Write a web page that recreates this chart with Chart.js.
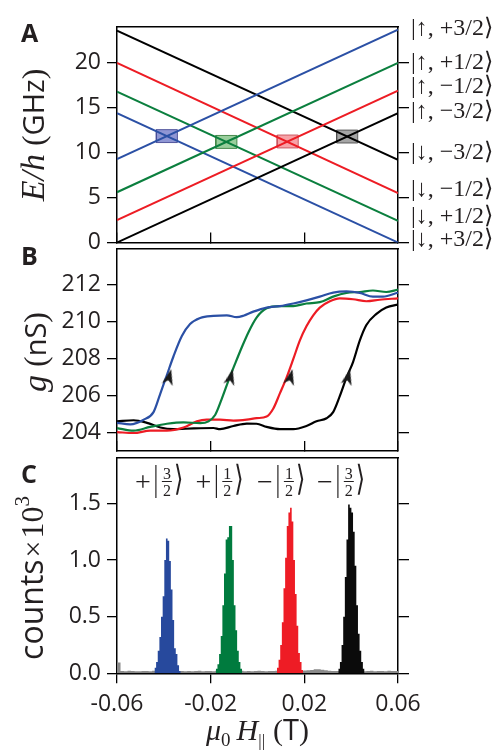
<!DOCTYPE html>
<html>
<head>
<meta charset="utf-8">
<script src="https://cdn.jsdelivr.net/npm/chart.js@4.4.1/dist/chart.umd.min.js"></script>
<style>
  html, body { margin: 0; padding: 0; background: #fff; }
  #figure { position: relative; width: 503px; height: 750px; overflow: hidden; }
  #figure canvas { position: absolute; left: 0; }
</style>
</head>
<body>
<div id="figure">
  <canvas id="panelA" width="503" height="260" style="top:0px"></canvas>
  <canvas id="panelB" width="503" height="220" style="top:240px"></canvas>
  <canvas id="panelC" width="503" height="300" style="top:450px"></canvas>
</div>
<script>
const FIELD_MIN = -0.06;
const FIELD_MAX = 0.06;

// panel A: level energies (GHz) at both ends of the field range
const A_FIELD = [-0.06, 0.06];
const A_BLUE_UP = [9.3, 23.7];
const A_GREEN_UP = [5.6, 20.0];
const A_RED_UP = [2.5, 16.9];
const A_BLACK_UP = [0.0, 14.4];
const A_BLACK_DOWN = [23.6, 9.2];
const A_RED_DOWN = [20.0, 5.5];
const A_GREEN_DOWN = [16.8, 2.4];
const A_BLUE_DOWN = [14.4, 0.0];
// anticrossings marked by boxes
const A_CROSS_FIELD = [-0.0387, -0.0133, 0.0129, 0.0383];
const A_CROSS_ENERGY = [11.85, 11.2, 11.25, 11.8];
const KET_LABELS = ["|↑, +3/2⟩", "|↑, +1/2⟩", "|↑, −1/2⟩", "|↑, −3/2⟩",
                    "|↓, −3/2⟩", "|↓, −1/2⟩", "|↓, +1/2⟩", "|↓, +3/2⟩"];
const KET_ENERGY = [23.8, 20.0, 17.3, 14.6, 10.0, 5.9, 2.86, 0.26];

// panel B: conductance sweeps (nS)
const B_BLUE_FIELD = [-0.06, -0.0543, -0.0486, -0.0444, -0.0415, -0.0387, -0.0359, -0.0323, -0.0288, -0.0245, -0.0188, -0.0131, -0.0089, -0.0060, -0.0018, 0.0039, 0.0096, 0.0153, 0.0209, 0.0266, 0.0323, 0.0380, 0.0437, 0.0493, 0.0536, 0.06];
const B_BLUE_G = [204.52, 204.44, 204.69, 205.1, 206.1, 207.1, 208.1, 209.2, 209.85, 210.18, 210.29, 210.32, 210.22, 210.30, 210.52, 210.74, 210.82, 210.96, 211.13, 211.33, 211.55, 211.61, 211.53, 211.33, 211.33, 211.55];
const B_GREEN_FIELD = [-0.06, -0.0529, -0.0458, -0.0387, -0.0316, -0.0245, -0.0209, -0.0181, -0.0153, -0.0124, -0.0096, -0.0067, -0.0039, -0.0004, 0.0039, 0.0096, 0.0153, 0.0209, 0.0266, 0.0323, 0.0380, 0.0437, 0.0493, 0.0550, 0.06];
const B_GREEN_G = [204.24, 204.1, 204.3, 204.47, 204.55, 204.5, 204.6, 204.94, 205.8, 206.8, 207.7, 208.6, 209.4, 210.2, 210.7, 210.82, 210.82, 210.96, 211.03, 211.33, 211.53, 211.58, 211.66, 211.58, 211.71];
const B_RED_FIELD = [-0.06, -0.0529, -0.0458, -0.0387, -0.0316, -0.0259, -0.0217, -0.0160, -0.0103, -0.0046, -0.0004, 0.0039, 0.0067, 0.0096, 0.0124, 0.0153, 0.0181, 0.0209, 0.0238, 0.0266, 0.0309, 0.0351, 0.0408, 0.0465, 0.0522, 0.06];
const B_RED_G = [204.02, 203.97, 204.1, 204.1, 204.27, 204.6, 204.69, 204.69, 204.64, 204.69, 204.77, 204.86, 205.28, 206.12, 206.96, 207.97, 208.97, 209.73, 210.32, 210.74, 211.08, 211.24, 211.19, 211.08, 211.16, 211.24];
const B_BLACK_FIELD = [-0.06, -0.0529, -0.0472, -0.0415, -0.0359, -0.0273, -0.0188, -0.0160, -0.0103, -0.0046, -0.0004, 0.0039, 0.0096, 0.0153, 0.0209, 0.0252, 0.0295, 0.0323, 0.0351, 0.0380, 0.0408, 0.0437, 0.0465, 0.0508, 0.0550, 0.06];
const B_BLACK_G = [204.6, 204.66, 204.52, 204.27, 204.18, 204.22, 204.24, 204.18, 204.35, 204.48, 204.47, 204.3, 204.18, 204.18, 204.35, 204.6, 204.77, 205.1, 205.95, 206.96, 207.8, 208.97, 209.8, 210.4, 210.74, 210.9];
const B_ARROW_FIELD = [-0.0377, -0.0114, 0.0141, 0.0387];
const B_ARROW_G = [207.0, 207.0, 207.0, 207.0];

// panel C: histograms of switching fields (counts x 10^3)
const C_BIN = 0.0007;
const C_BLUE_START = -0.0440;
const C_BLUE = [0.05, 0.10, 0.20, 0.32, 0.50, 0.68, 1.00, 1.19, 1.17, 0.99, 0.74, 0.47, 0.22, 0.17, 0.07, 0.02];
const C_GREEN_START = -0.0178;
const C_GREEN = [0.04, 0.08, 0.17, 0.33, 0.60, 0.88, 1.18, 1.20, 1.30, 1.30, 1.00, 0.60, 0.38, 0.20, 0.10, 0.04];
const C_RED_START = 0.0083;
const C_RED = [0.05, 0.12, 0.25, 0.45, 0.75, 1.02, 1.30, 1.42, 1.46, 1.34, 1.00, 0.70, 0.42, 0.18, 0.10, 0.03];
const C_BLACK_START = 0.0345;
const C_BLACK = [0.04, 0.10, 0.25, 0.50, 0.85, 1.18, 1.49, 1.46, 1.42, 1.25, 0.95, 0.60, 0.35, 0.20, 0.10, 0.04];
const C_GRAY_BIN = 0.0015;
const C_GRAY = [
  0.095, 0.020, 0.018, 0.022, 0.020, 0.019, 0.017, 0.021, 0.020, 0.018,
  0.022, 0.020, 0.020, 0.020, 0.020, 0.020, 0.020, 0.020, 0.020, 0.019,
  0.021, 0.018, 0.020, 0.022, 0.019, 0.021, 0.020, 0.018, 0.023, 0.020,
  0.020, 0.020, 0.020, 0.020, 0.020, 0.022, 0.018, 0.021, 0.019, 0.020,
  0.023, 0.020, 0.018, 0.021, 0.020, 0.022, 0.019, 0.020, 0.020, 0.020,
  0.020, 0.020, 0.020, 0.024, 0.028, 0.030, 0.036, 0.035, 0.032, 0.026,
  0.022, 0.020, 0.020, 0.020, 0.020, 0.020, 0.020, 0.020, 0.020, 0.021,
  0.018, 0.020, 0.022, 0.019, 0.021, 0.020, 0.018, 0.022, 0.020, 0.021
];
const PEAK_SIGNS = ["+", "+", "−", "−"];
const PEAK_NUMERATORS = ["3", "1", "1", "3"];
const PEAK_LABEL_FIELD = [-0.0387, -0.0129, 0.0134, 0.0390];

const COLORS = {
  blue: "#2b50a5",
  green: "#0b7f3e",
  red: "#ed1c24",
  black: "#000000",
  gray: "#8a8a8a",
};
const HIST_COLORS = { blue: "#27499d", green: "#007b3e", red: "#ee1c25", black: "#0b0b0b" };
const BOX_FILL = ["rgba(75, 85, 185, 0.62)", "rgba(70, 165, 75, 0.55)", "rgba(240, 85, 95, 0.55)", "rgba(105, 105, 105, 0.6)"];
const BOX_EDGE = ["rgba(70, 75, 150, 0.9)", "rgba(60, 130, 65, 0.9)", "rgba(200, 80, 90, 0.9)", "rgba(80, 80, 80, 0.9)"];
const BOX_HALF_FIELD = 0.0045;
const BOX_HALF_ENERGY = 0.72;

const INK = "#000";
const TEXT = "#231f20";
const SANS = '"Open Sans", sans-serif';
const SERIF = '"Liberation Serif", "DejaVu Serif", serif';
const TICK_FONT = { family: SANS, size: 23 };
const AXIS_W = 1.5;
const PLOT_LEFT = 117;
const RIGHT_W = 105;

// lock axis sizes so the three stacked plots line up exactly
const fixWidth = (w) => (s) => { s.width = w; s.paddingTop = 0; s.paddingBottom = 0; };
const fixHeight = (h) => (s) => { s.height = h; s.paddingLeft = 0; s.paddingRight = 0; };

function fieldAxis(tickLength, showLabels, height) {
  return {
    type: "linear",
    position: "bottom",
    min: FIELD_MIN,
    max: FIELD_MAX,
    border: { display: true, color: INK, width: AXIS_W },
    grid: { drawOnChartArea: false, tickLength, color: INK, lineWidth: 1.3 },
    ticks: {
      display: showLabels,
      stepSize: 0.04,
      autoSkip: false,
      maxRotation: 0,
      padding: 7,
      font: TICK_FONT,
      color: TEXT,
      callback: (v) => v.toFixed(2),
    },
    afterFit: fixHeight(height),
  };
}

function topFrame() {
  return {
    type: "linear",
    position: "top",
    border: { display: true, color: INK, width: AXIS_W },
    grid: { display: false },
    ticks: { display: false },
    afterFit: fixHeight(0),
  };
}

function valueAxis(min, max, step, digits) {
  return {
    type: "linear",
    position: "left",
    min,
    max,
    border: { display: true, color: INK, width: AXIS_W },
    grid: { drawOnChartArea: false, tickLength: 10, color: INK, lineWidth: 1.3 },
    ticks: {
      stepSize: step,
      includeBounds: false,
      autoSkip: false,
      padding: 6,
      font: TICK_FONT,
      color: TEXT,
      callback: (v) => v.toFixed(digits),
    },
    afterFit: fixWidth(PLOT_LEFT),
  };
}

function rightTicks(min, max, step, width) {
  return {
    type: "linear",
    position: "right",
    weight: 0,
    min,
    max,
    border: { display: true, color: INK, width: AXIS_W },
    grid: { drawOnChartArea: false, tickLength: 11, color: INK, lineWidth: 1.3 },
    ticks: { display: false, stepSize: step, includeBounds: false },
    afterFit: fixWidth(width),
  };
}

function pts(xs, ys) {
  return xs.map((x, i) => ({ x, y: ys[i] }));
}

function levelLine(ys, color) {
  return {
    data: pts(A_FIELD, ys),
    borderColor: color,
    borderWidth: 2,
    pointRadius: 0,
    fill: false,
    order: 1,
  };
}

function crossBox(i) {
  const x = A_CROSS_FIELD[i];
  const y = A_CROSS_ENERGY[i];
  return {
    data: [
      { x: x - BOX_HALF_FIELD, y: y - BOX_HALF_ENERGY },
      { x: x + BOX_HALF_FIELD, y: y - BOX_HALF_ENERGY },
      { x: x + BOX_HALF_FIELD, y: y + BOX_HALF_ENERGY },
      { x: x - BOX_HALF_FIELD, y: y + BOX_HALF_ENERGY },
      { x: x - BOX_HALF_FIELD, y: y - BOX_HALF_ENERGY },
    ],
    fill: "shape",
    backgroundColor: BOX_FILL[i],
    borderColor: BOX_EDGE[i],
    borderWidth: 1,
    pointRadius: 0,
    order: 2,
  };
}

function sweep(xs, ys, color) {
  return {
    data: pts(xs, ys),
    borderColor: color,
    borderWidth: 2.2,
    pointRadius: 0,
    cubicInterpolationMode: "monotone",
    fill: false,
    order: 2,
  };
}

function histogram(start, bin, counts, color, order) {
  const data = counts.map((c, i) => ({ x: start + i * bin, y: c }));
  data.push({ x: start + counts.length * bin, y: 0 });
  return {
    data,
    stepped: "before",
    fill: "origin",
    backgroundColor: color,
    borderColor: color,
    borderWidth: 0,
    pointRadius: 0,
    order,
  };
}

// draws a row of differently styled text pieces centred on (cx, baseline)
function richText(ctx, parts, cx, baseline, angle) {
  ctx.save();
  ctx.translate(cx, baseline);
  ctx.rotate(angle);
  ctx.textAlign = "left";
  ctx.textBaseline = "alphabetic";
  ctx.fillStyle = TEXT;
  let total = 0;
  for (const p of parts) {
    ctx.font = p.font;
    p.w = ctx.measureText(p.text).width + (p.gap || 0);
    total += p.w;
  }
  let x = -total / 2;
  for (const p of parts) {
    ctx.font = p.font;
    ctx.fillText(p.text, x, p.dy || 0);
    x += p.w;
  }
  ctx.restore();
}

function panelLetter(ctx, letter, baseline) {
  ctx.save();
  ctx.font = `bold 25px ${SANS}`;
  ctx.fillStyle = TEXT;
  ctx.textAlign = "left";
  ctx.textBaseline = "alphabetic";
  ctx.fillText(letter, 21, baseline);
  ctx.restore();
}

const arrowHead = (() => {
  const c = document.createElement("canvas");
  c.width = 12;
  c.height = 16;
  const g = c.getContext("2d");
  g.fillStyle = "#1a1a1a";
  g.beginPath();
  g.moveTo(6, 0);
  g.lineTo(11.5, 16);
  g.lineTo(6, 11.5);
  g.lineTo(0.5, 16);
  g.closePath();
  g.fill();
  return c;
})();

const baseOptions = {
  responsive: false,
  animation: false,
  events: [],
  plugins: { legend: { display: false }, tooltip: { enabled: false } },
};

// ---------- panel A ----------
new Chart(document.getElementById("panelA"), {
  type: "line",
  data: {
    datasets: [
      levelLine(A_BLUE_UP, COLORS.blue),
      levelLine(A_GREEN_UP, COLORS.green),
      levelLine(A_RED_UP, COLORS.red),
      levelLine(A_BLACK_UP, COLORS.black),
      levelLine(A_BLACK_DOWN, COLORS.black),
      levelLine(A_RED_DOWN, COLORS.red),
      levelLine(A_GREEN_DOWN, COLORS.green),
      levelLine(A_BLUE_DOWN, COLORS.blue),
      crossBox(0), crossBox(1), crossBox(2), crossBox(3),
    ],
  },
  options: {
    ...baseOptions,
    layout: { padding: { top: 27, bottom: 17.5, left: 0, right: 0 } },
    scales: {
      x: fieldAxis(-10, false, 0),
      xTop: topFrame(),
      y: valueAxis(0, 24, 5, 0),
      yR: rightTicks(0, 24, 5, 0),
      yK: {
        type: "linear",
        position: "right",
        weight: 1,
        min: 0,
        max: 24,
        border: { display: false },
        grid: { display: false, drawTicks: false },
        ticks: {
          autoSkip: false,
          padding: 13,
          font: { family: SERIF, size: 24 },
          color: TEXT,
          callback: (v, i) => KET_LABELS[i],
        },
        afterBuildTicks: (s) => { s.ticks = KET_ENERGY.map((v) => ({ value: v })); },
        afterFit: fixWidth(RIGHT_W),
      },
    },
  },
  plugins: [{
    id: "decorA",
    afterDraw(chart) {
      const ctx = chart.ctx;
      panelLetter(ctx, "A", 42);
      richText(ctx, [
        { text: "E", font: `italic 34px ${SERIF}` },
        { text: "/", font: `italic 34px ${SERIF}` },
        { text: "h", font: `italic 34px ${SERIF}`, gap: 8 },
        { text: "(", font: `32px ${SERIF}` },
        { text: "GHz", font: `29px ${SANS}` },
        { text: ")", font: `32px ${SERIF}` },
      ], 44, 135, -Math.PI / 2);
    },
  }],
});

// ---------- panel B ----------
new Chart(document.getElementById("panelB"), {
  type: "line",
  data: {
    datasets: [
      {
        data: pts(B_ARROW_FIELD, B_ARROW_G),
        showLine: false,
        pointStyle: arrowHead,
        rotation: 14,
        pointRadius: 8,
        order: 0,
      },
      sweep(B_BLUE_FIELD, B_BLUE_G, COLORS.blue),
      sweep(B_GREEN_FIELD, B_GREEN_G, COLORS.green),
      sweep(B_RED_FIELD, B_RED_G, COLORS.red),
      sweep(B_BLACK_FIELD, B_BLACK_G, COLORS.black),
    ],
  },
  options: {
    ...baseOptions,
    layout: { padding: { top: 2.5, bottom: 2, left: 0, right: 0 } },
    scales: {
      x: fieldAxis(-10, false, 0),
      xTop: topFrame(),
      y: valueAxis(203.0, 213.9, 2, 0),
      yR: rightTicks(203.0, 213.9, 2, RIGHT_W),
    },
  },
  plugins: [{
    id: "decorB",
    afterDraw(chart) {
      const ctx = chart.ctx;
      panelLetter(ctx, "B", 25);
      richText(ctx, [
        { text: "g", font: `italic 34px ${SERIF}`, gap: 8 },
        { text: "(", font: `32px ${SERIF}` },
        { text: "nS", font: `29px ${SANS}` },
        { text: ")", font: `32px ${SERIF}` },
      ], 46, 112, -Math.PI / 2);
    },
  }],
});

// ---------- panel C ----------
new Chart(document.getElementById("panelC"), {
  type: "line",
  data: {
    datasets: [
      histogram(C_BLUE_START, C_BIN, C_BLUE, HIST_COLORS.blue, 1),
      histogram(C_GREEN_START, C_BIN, C_GREEN, HIST_COLORS.green, 1),
      histogram(C_RED_START, C_BIN, C_RED, HIST_COLORS.red, 1),
      histogram(C_BLACK_START, C_BIN, C_BLACK, HIST_COLORS.black, 1),
      histogram(FIELD_MIN, C_GRAY_BIN, C_GRAY, COLORS.gray, 2),
    ],
  },
  options: {
    ...baseOptions,
    layout: { padding: { top: 8, bottom: 0, left: 0, right: 0 } },
    scales: {
      x: fieldAxis(10, true, 76.7),
      xTop: topFrame(),
      y: valueAxis(0, 1.9, 0.5, 1),
      yR: rightTicks(0, 1.9, 0.5, RIGHT_W),
    },
  },
  plugins: [{
    id: "decorC",
    afterDraw(chart) {
      const ctx = chart.ctx;
      const xs = chart.scales.x;
      panelLetter(ctx, "C", 33);
      richText(ctx, [
        { text: "counts", font: `32px ${SANS}`, gap: 2 },
        { text: "×", font: `30px ${SERIF}`, gap: 2 },
        { text: "10", font: `32px ${SERIF}` },
        { text: "3", font: `21px ${SERIF}`, dy: -14 },
      ], 43, 128, -Math.PI / 2);
      richText(ctx, [
        { text: "μ", font: `italic 30px ${SERIF}` },
        { text: "0", font: `19px ${SERIF}`, dy: 6, gap: 6 },
        { text: "H", font: `italic 30px ${SERIF}` },
        { text: "||", font: `17px ${SERIF}`, dy: 6, gap: 8 },
        { text: "(", font: `30px ${SERIF}` },
        { text: "T", font: `29px ${SANS}` },
        { text: ")", font: `30px ${SERIF}` },
      ], (chart.chartArea.left + chart.chartArea.right) / 2, 290, 0);

      // state labels above the peaks
      ctx.save();
      ctx.fillStyle = TEXT;
      ctx.strokeStyle = TEXT;
      ctx.textBaseline = "alphabetic";
      const barY = 31.5;
      PEAK_LABEL_FIELD.forEach((f, i) => {
        const cx = xs.getPixelForValue(f);
        ctx.textAlign = "center";
        ctx.font = `16px ${SERIF}`;
        ctx.fillText(PEAK_NUMERATORS[i], cx, barY - 3);
        ctx.fillText("2", cx, barY + 14);
        ctx.lineWidth = 1;
        ctx.beginPath();
        ctx.moveTo(cx - 5, barY);
        ctx.lineTo(cx + 5, barY);
        ctx.stroke();
        ctx.font = `28px ${SERIF}`;
        ctx.fillText(PEAK_SIGNS[i], cx - 24, barY + 9);
        ctx.save();
        ctx.translate(0, barY);
        ctx.scale(1, 1.45);
        ctx.font = `24px ${SERIF}`;
        ctx.fillText("|", cx - 11, 6);
        ctx.textAlign = "left";
        ctx.fillText("⟩", cx + 7, 6);
        ctx.restore();
      });
      ctx.restore();
    },
  }],
});
</script>
</body>
</html>
